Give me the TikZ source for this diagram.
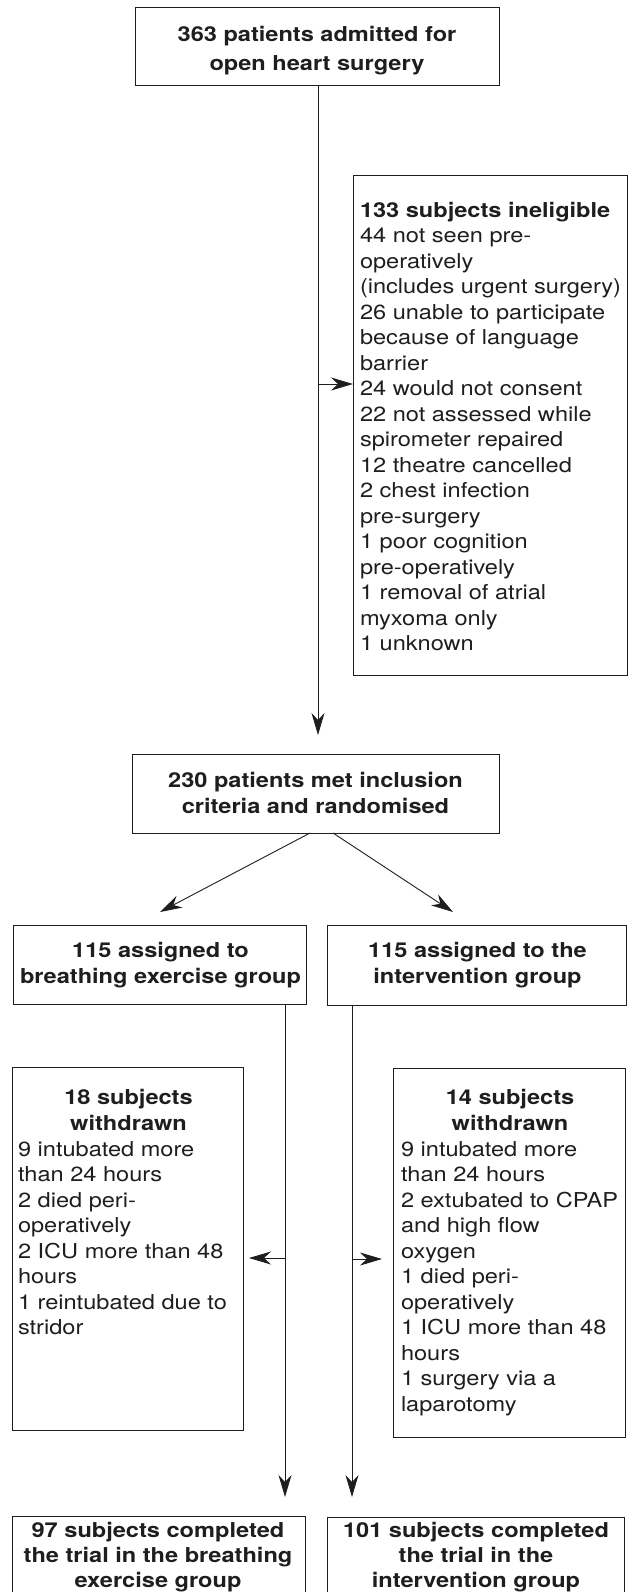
\documentclass[tikz,border=0pt]{standalone}
\usepackage{fontspec}
\setmainfont{TeX Gyre Heros}[FakeStretch=1.15]
\usetikzlibrary{arrows.meta}
\definecolor{ink}{HTML}{1E1E1E}
\begin{document}
\begin{tikzpicture}[x=1pt,y=-1pt,
  box/.style={draw=ink, line width=1pt, inner sep=0pt, outer sep=0pt},
  txt/.style={inner sep=0pt, outer sep=0pt, text=ink},
  hdr/.style={txt, align=center, font=\fontsize{20.5}{26}\selectfont\bfseries},
  lst/.style={txt, align=left, font=\fontsize{20.5}{25.5}\selectfont},
  arr/.style={draw=ink, line width=0.9pt, -{Stealth[length=22pt,width=13pt,inset=7pt]}}]
\useasboundingbox (0,0) rectangle (628,1592);
\fill[white] (0,0) rectangle (628,1592);
\clip (0,0) rectangle (628,1592);

% boxes
\node[box, minimum width=364pt, minimum height=78pt] (b1) at (317,47) {};
\node[box, minimum width=274pt, minimum height=500pt] (b2) at (490,425) {};
\node[box, minimum width=367pt, minimum height=79pt] (b3) at (315.5,793.5) {};
\node[box, minimum width=293pt, minimum height=79pt] (b4) at (159.5,964.5) {};
\node[box, minimum width=299pt, minimum height=80pt] (b5) at (476.5,965) {};
\node[box, minimum width=231pt, minimum height=363pt] (b6) at (127.5,1248.5) {};
\node[box, minimum width=232pt, minimum height=369pt] (b7) at (509,1252.5) {};
\node[box, minimum width=293pt, minimum height=84pt] (b8) at (158.5,1558) {};
\node[box, minimum width=297pt, minimum height=83pt] (b9) at (475.5,1558.5) {};

% texts
\node[hdr, anchor=north, font=\fontsize{20.5}{28.5}\selectfont\bfseries] (t1) at (317,26.7)
  {363 patients admitted for\\open heart surgery};
\node[lst, anchor=north west, font=\fontsize{20.5}{25.5}\selectfont] (t2) at (360,201.9)
  {\textbf{133 subjects ineligible}\\44 not seen pre-\\operatively\\(includes urgent surgery)\\26 unable to participate\\because of language\\barrier\\24 would not consent\\22 not assessed while\\spirometer repaired\\12 theatre cancelled\\2 chest infection\\pre-surgery\\1 poor cognition\\pre-operatively\\1 removal of atrial\\myxoma only\\1 unknown};
\node[hdr, anchor=north] (t3) at (315.5,772.5) {230 patients met inclusion\\criteria and randomised};
\node[hdr, anchor=north] (t4) at (160.5,941.9) {115 assigned to\\breathing exercise group};
\node[hdr, anchor=north] (t5) at (477.5,941.9) {115 assigned to the\\intervention group};
\node[hdr, anchor=north] (t6h) at (128.5,1089.5) {18 subjects\\withdrawn};
\node[lst, anchor=north west] (t6) at (18,1141.2)
  {9 intubated more\\than 24 hours\\2 died peri-\\operatively\\2 ICU more than 48\\hours\\1 reintubated due to\\stridor};
\node[hdr, anchor=north] (t7h) at (510,1089.2) {14 subjects\\withdrawn};
\node[lst, anchor=north west] (t7) at (401,1141.2)
  {9 intubated more\\than 24 hours\\2 extubated to CPAP\\and high flow\\oxygen\\1 died peri-\\operatively\\1 ICU more than 48\\hours\\1 surgery via a\\laparotomy};
\node[hdr, anchor=north, font=\fontsize{20.5}{25}\selectfont\bfseries] (t8) at (158,1521.9)
  {97 subjects completed\\the trial in the breathing\\exercise group};
\node[hdr, anchor=north, font=\fontsize{20.5}{25}\selectfont\bfseries] (t9) at (476,1522.2)
  {101 subjects completed\\the trial in the\\intervention group};

% connector points
\coordinate (j1) at (318,384);
\coordinate (tip3) at (318,735);
\coordinate (d1) at (160,912);
\coordinate (d2) at (453,912);
\coordinate (j6) at (285,1258);
\coordinate (tip8) at (285,1497);
\coordinate (j7) at (352,1259);
\coordinate (tip9) at (352,1497);

% connectors
\draw[arr] (b1.south -| tip3) -- (tip3);
\draw[arr] (j1) -- (j1 -| b2.west);
\draw[arr] ([xshift=-5.5pt]b3.south) -- (d1);
\draw[arr] ([xshift=17.5pt]b3.south) -- (d2);
\draw[arr] (b4.south -| tip8) -- (tip8);
\draw[arr] (j6) -- ([xshift=6pt]b6.east |- j6);
\draw[arr] (b5.south -| tip9) -- (tip9);
\draw[arr] (j7) -- ([xshift=-11pt]b7.west |- j7);
\end{tikzpicture}
\end{document}
